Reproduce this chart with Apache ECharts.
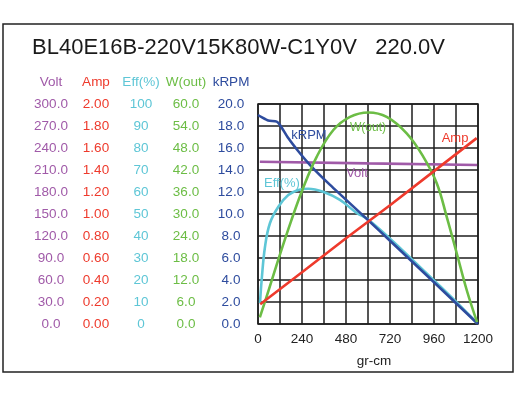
<!DOCTYPE html>
<html>
<head>
<meta charset="utf-8">
<script src="https://cdn.jsdelivr.net/npm/echarts@6/dist/echarts.min.js"></script>
<style>
html,body{margin:0;padding:0;background:#fff;}
#chart{width:516px;height:399px;}
</style>
</head>
<body>
<div id="chart"></div>
<script>
// curve points: [gr-cm, value]
const voltData = [[10, 221.3], [600, 219.0], [1195, 216.8]]
const ampData = [[12, 0.18], [240, 0.47], [480, 0.78], [720, 1.08], [960, 1.39], [1193, 1.69]]
const effData = [[11, 9.5], [20, 20], [38, 35], [65, 45.8], [111, 53.3], [165, 58.6], [220, 60.9], [274, 61.5],
	[355, 60.1], [447, 56.4], [538, 50.5], [600, 47.5], [720, 38.8], [840, 29.4], [960, 19.8], [1080, 10.1], [1195, 0.4]]
const wData = [[10, 1.8], [60, 9.5], [120, 19.0], [180, 28.0], [240, 36.3], [320, 45.6], [411, 52.9], [502, 56.5],
	[602, 57.7], [702, 56.5], [811, 52.0], [902, 45.6], [975, 38.4], [1029, 29.3], [1084, 19.3], [1140, 9.0], [1195, 0.5]]
const krpmData = [[0, 19.0], [20, 18.8], [56, 18.5], [102, 18.4], [120, 18.1], [165, 16.9], [220, 15.7], [284, 14.45],
	[393, 12.65], [600, 9.45], [720, 7.57], [960, 3.79], [1200, 0]]

const axisNames = ["Volt", "Amp", "Eff(%)", "W(out)", "kRPM"]
const axisMax = [300, 2, 100, 60, 20]
const axisDigits = [1, 2, 0, 1, 1]
const colors = ["#a05aa8", "#ee3a2c", "#5ec6d6", "#6cbd45", "#2e4c9e"]
const labelCenters = [51, 96, 141, 186, 231]
const xTicks = [0, 240, 480, 720, 960, 1200]

const title = "BL40E16B-220V15K80W-C1Y0V   220.0V"

const gridLeft = 258, gridTop = 104, gridW = 220, gridH = 220
const font = "Liberation Sans, Arial, sans-serif"

const yAxes = axisNames.map((name, i) => {
	return {
		type: "value",
		position: "left",
		min: 0,
		max: axisMax[i],
		interval: axisMax[i] / 10,
		axisLine: {show: false},
		axisTick: {show: false},
		splitLine: {show: i === 4, lineStyle: {color: "#1e1e1e", width: 1.5}},
		axisLabel: {
			align: "center",
			margin: gridLeft - labelCenters[i],
			color: colors[i],
			fontSize: 13.5,
			fontFamily: font,
			formatter: v => v.toFixed(axisDigits[i])
		}
	}
})

const headers = axisNames.map((name, i) => {
	return {
		type: "text",
		x: labelCenters[i],
		y: 82,
		style: {text: name, fill: colors[i], font: "13.5px " + font, textAlign: "center", textVerticalAlign: "middle"}
	}
})

// curve captions inside the plot
const captions = [
	{text: "kRPM", x: 309, y: 135, c: 4, size: 13},
	{text: "W(out)", x: 368, y: 128, c: 3, size: 12},
	{text: "Amp", x: 455, y: 138, c: 1, size: 13},
	{text: "Volt", x: 357, y: 173, c: 0, size: 13},
	{text: "Eff(%)", x: 282, y: 183, c: 2, size: 13}
].map(t => {
	return {
		type: "text",
		x: t.x,
		y: t.y,
		z: 100,
		style: {text: t.text, fill: colors[t.c], font: t.size + "px " + font, textAlign: "center", textVerticalAlign: "middle"}
	}
})

function lineSeries(name, data, axis, smooth){
	return {
		name: name,
		type: "line",
		yAxisIndex: axis,
		data: data,
		smooth: smooth,
		showSymbol: false,
		lineStyle: {color: colors[axis], width: 2.6},
		itemStyle: {color: colors[axis]}
	}
}

let option = {
	animation: false,
	backgroundColor: "#fff",
	grid: {
		left: gridLeft, top: gridTop, width: gridW, height: gridH,
		show: true, borderColor: "#1e1e1e", borderWidth: 1.5
	},
	xAxis: {
		type: "value",
		min: xTicks[0],
		max: xTicks[xTicks.length - 1],
		interval: 240,
		name: "gr-cm",
		nameLocation: "middle",
		nameGap: 30,
		nameTextStyle: {color: "#222", fontSize: 13.5, fontFamily: font, padding: [0, 0, 0, 12]},
		axisLine: {show: false},
		axisTick: {show: false},
		minorTick: {show: false, splitNumber: 2},
		splitLine: {show: true, lineStyle: {color: "#1e1e1e", width: 1.5}},
		minorSplitLine: {show: true, lineStyle: {color: "#1e1e1e", width: 1.5}},
		axisLabel: {color: "#222", fontSize: 13.5, fontFamily: font, margin: 8, formatter: v => String(v)}
	},
	yAxis: yAxes,
	graphic: [
		{type: "rect", shape: {x: 3, y: 24, width: 510, height: 348}, style: {fill: "none", stroke: "#222", lineWidth: 1.5}},
		{type: "text", x: 32, y: 48, style: {text: title, fill: "#1a1a1a", font: "22px " + font, textVerticalAlign: "middle"}}
	].concat(headers, captions),
	series: [
		lineSeries("Volt", voltData, 0, false),
		lineSeries("Eff(%)", effData, 2, 0.4),
		lineSeries("kRPM", krpmData, 4, 0.2),
		lineSeries("W(out)", wData, 3, 0.4),
		lineSeries("Amp", ampData, 1, false)
	]
}

let myChart = echarts.init(document.getElementById("chart"))
myChart.setOption(option)
</script>
</body>
</html>
